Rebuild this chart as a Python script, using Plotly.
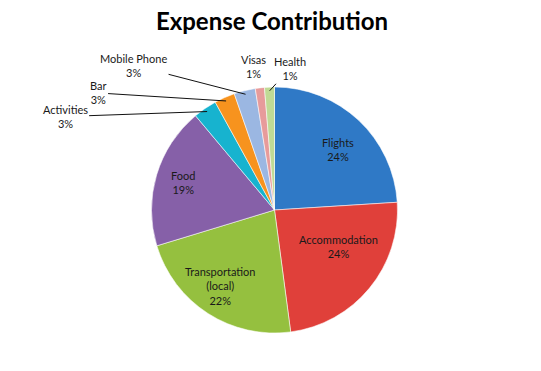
import math
import plotly.graph_objects as go

categories = ["Flights", "Accommodation", "Transportation (local)", "Food",
              "Activities", "Bar", "Mobile Phone", "Visas", "Health"]
display_labels = ["Flights", "Accommodation", "Transportation<br>(local)", "Food",
                  "Activities", "Bar", "Mobile Phone", "Visas", "Health"]
values = [24.0, 23.9, 22.4, 18.6, 3.1, 2.7, 2.8, 1.2, 1.3]
colors = ["#2f79c6", "#e0403a", "#95c03f", "#8660a8", "#17b3cf",
          "#f7931e", "#9bb7e2", "#e79b9b", "#c0da95"]

W, H = 541, 371
CX, CY, R = 274.5, 210.0, 123.0
FONT = "Lato, 'Open Sans', sans-serif"
TXT = dict(family=FONT, size=11, color="#1a1a1a")

fig = go.Figure(go.Pie(
    labels=categories,
    values=values,
    sort=False,
    direction="clockwise",
    rotation=0,
    marker=dict(colors=colors, line=dict(color="rgba(255,255,255,0.55)", width=1)),
    textinfo="none",
    hoverinfo="label+percent",
    showlegend=False,
    domain=dict(x=[(CX - R) / W, (CX + R) / W], y=[(H - CY - R) / H, (H - CY + R) / H]),
))

# label placement styles: inside -> (radius factor, angle nudge in degrees)
inside_style = {
    "Flights": (0.71, 3.4),
    "Accommodation": (0.60, -10.2),
    "Transportation (local)": (0.76, 2.9),
    "Food": (0.78, 0.0),
}
# outside -> pixel offsets of label from slice edge, with/without leader line
outside_style = {
    "Activities": (-142, 5, True),
    "Bar": (-128, -8, True),
    "Mobile Phone": (-112, -29, True),
    "Visas": (-7, -25, False),
    "Health": (20, -22, True),
}

total = sum(values)
cum = 0.0
annotations = []
for cat, lab, v in zip(categories, display_labels, values):
    mid = (cum + v / 2) / total
    cum += v
    txt = f"{lab}<br>{round(100 * v / total)}%"
    if cat in inside_style:
        rf, dth = inside_style[cat]
        th = 2 * math.pi * mid + math.radians(dth)
        px = CX + R * rf * math.sin(th)
        py = CY - R * rf * math.cos(th)
        annotations.append(dict(x=px / W, y=1 - py / H, xref="paper", yref="paper",
                                text=txt, showarrow=False, font=TXT,
                                xanchor="center", yanchor="middle"))
        continue
    th = 2 * math.pi * mid
    px = CX + R * 0.97 * math.sin(th)
    py = CY - R * 0.97 * math.cos(th)
    ax, ay, arrow = outside_style[cat]
    if arrow:
        annotations.append(dict(
            x=px / W, y=1 - py / H, xref="paper", yref="paper",
            text=txt, showarrow=True, ax=ax, ay=ay, arrowhead=0,
            arrowwidth=1, arrowcolor="#111111", standoff=0, font=TXT,
        ))
    else:
        annotations.append(dict(
            x=px / W, y=1 - py / H, xref="paper", yref="paper",
            text=txt, showarrow=False, xshift=ax, yshift=-ay, font=TXT,
            xanchor="center", yanchor="middle",
        ))

fig.update_layout(
    width=W, height=H,
    margin=dict(l=0, r=0, t=0, b=0),
    paper_bgcolor="white",
    plot_bgcolor="white",
    title=dict(text="<b>Expense Contribution</b>", x=272 / W, xanchor="center",
               y=1 - 22 / H, yanchor="middle",
               font=dict(family=FONT, size=24, color="#000000")),
    annotations=annotations,
)

fig.write_html("out.html", config={"displayModeBar": False},
               post_script="document.body.style.margin='0px';")
